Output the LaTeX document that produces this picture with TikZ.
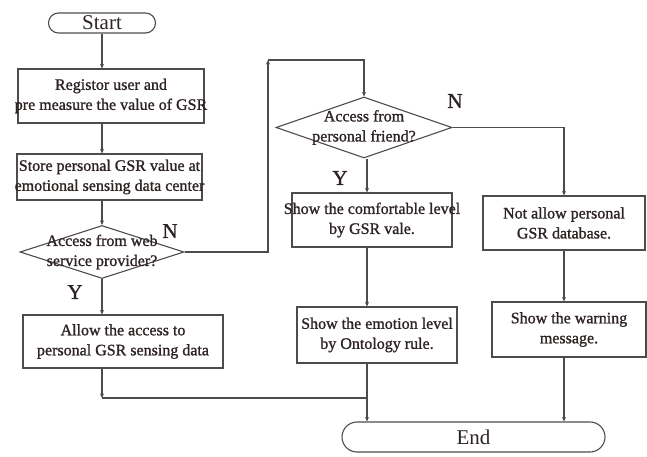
\documentclass[tikz,border=0pt]{standalone}
\usepackage{fontspec}
\setmainfont{Liberation Serif}
\newfontfamily\heavyserif[FakeBold=1.2]{Liberation Serif}
\usetikzlibrary{shapes.geometric,arrows.meta}
\definecolor{ink}{RGB}{45,35,35}
\definecolor{wire}{RGB}{80,75,75}
\tikzset{
  boxed/.style={draw=wire, line width=1.1pt, rectangle, inner sep=0pt},
  dia/.style={draw=wire, line width=1.1pt, diamond, inner sep=0pt},
  term/.style={draw=wire, line width=1.1pt, rectangle, rounded corners=#1, inner sep=0pt},
  txt/.style={text=ink, align=center, font=\heavyserif\fontsize{16}{20}\selectfont, inner sep=0pt},
  big/.style={text=ink, font=\fontsize{21}{24}\selectfont, inner sep=0pt},
  mark label/.style={text=ink, font=\heavyserif\fontsize{21}{24}\selectfont, inner sep=0pt},
  flow/.style={draw=wire, line width=1.1pt, -{Stealth[length=4.5pt,width=4pt]}},
  plain/.style={draw=wire, line width=1.1pt}
}
\begin{document}
\begin{tikzpicture}[x=1pt,y=-1pt]
\useasboundingbox (0,0) rectangle (647,457);

% terminals
\node[term=10pt, minimum width=107pt, minimum height=20pt] (start) at (102,23) {};
\node[big] (starttxt) at (start) {Start};
\node[term=15pt, minimum width=263pt, minimum height=30pt] (end) at (473.5,437) {};
\node[big] (endtxt) at (end) {End};

% left column
\node[boxed, minimum width=186pt, minimum height=54pt] (reg) at (111,96) {};
\node[txt] (regtxt) at (reg) {Registor user and\\pre measure the value of GSR};
\node[boxed, minimum width=185pt, minimum height=46pt] (store) at (109.5,177) {};
\node[txt] (storetxt) at (store) {Store personal GSR value at\\emotional sensing data center};
\node[dia, minimum width=164pt, minimum height=53pt] (d1) at (102,252) {};
\node[txt] (d1txt) at (d1) {Access from web\\service provider?};
\node[boxed, minimum width=200pt, minimum height=53pt] (allow) at (123,341.5) {};
\node[txt] (allowtxt) at (allow) {Allow the access to\\personal GSR sensing data};

% middle column
\node[dia, minimum width=176pt, minimum height=61pt] (d2) at (364,127.5) {};
\node[txt] (d2txt) at (d2) {Access from\\personal friend?};
\node[boxed, minimum width=160pt, minimum height=54pt] (comf) at (372,220) {};
\node[txt] (comftxt) at (comf) {Show the comfortable level\\by GSR vale.};
\node[boxed, minimum width=160pt, minimum height=56pt] (emo) at (377,335) {};
\node[txt] (emotxt) at (emo) {Show the emotion level\\by Ontology rule.};

% right column
\node[boxed, minimum width=162pt, minimum height=54pt] (deny) at (564,223) {};
\node[txt] (denytxt) at (deny) {Not allow personal\\GSR database.};
\node[boxed, minimum width=154pt, minimum height=55pt] (warn) at (569,329.5) {};
\node[txt] (warntxt) at (warn) {Show the warning\\message.};

% branch labels
\node[mark label] (n1) at (170,231) {N};
\node[mark label] (y1) at (75,292) {Y};
\node[mark label] (n2) at (455,101) {N};
\node[mark label] (y2) at (340,178) {Y};

% routing points
\coordinate (up) at (268,60);
\coordinate (j1) at (102,398);
\coordinate (j2) at (367,398);
\coordinate (c1) at (102,0);
\coordinate (c2) at (367,0);
\coordinate (c3) at (564,0);

% connectors
\draw[flow] (start.south -| c1) -- (reg.north -| c1);
\draw[flow] (reg.south -| c1) -- (store.north -| c1);
\draw[flow] (store.south -| d1.north) -- (d1.north);
\draw[flow] (d1.south) -- (d1.south |- allow.north);
\draw[flow] (d1.east) -| (up);
\draw[flow] (up) -| (d2.north);
\draw[flow] (d2.south -| c2) -- (comf.north -| c2);
\draw[flow] (d2.east) -| (deny.north -| c3);
\draw[flow] (comf.south -| c2) -- (emo.north -| c2);
\draw[flow] (deny.south -| c3) -- (warn.north -| c3);
\draw[flow] (allow.south -| j1) -- (j1);
\draw[plain] (j1) -- (j2);
\draw[flow] (emo.south -| c2) -- (end.north -| c2);
\draw[flow] (warn.south -| c3) -- (end.north -| c3);
\end{tikzpicture}
\end{document}
